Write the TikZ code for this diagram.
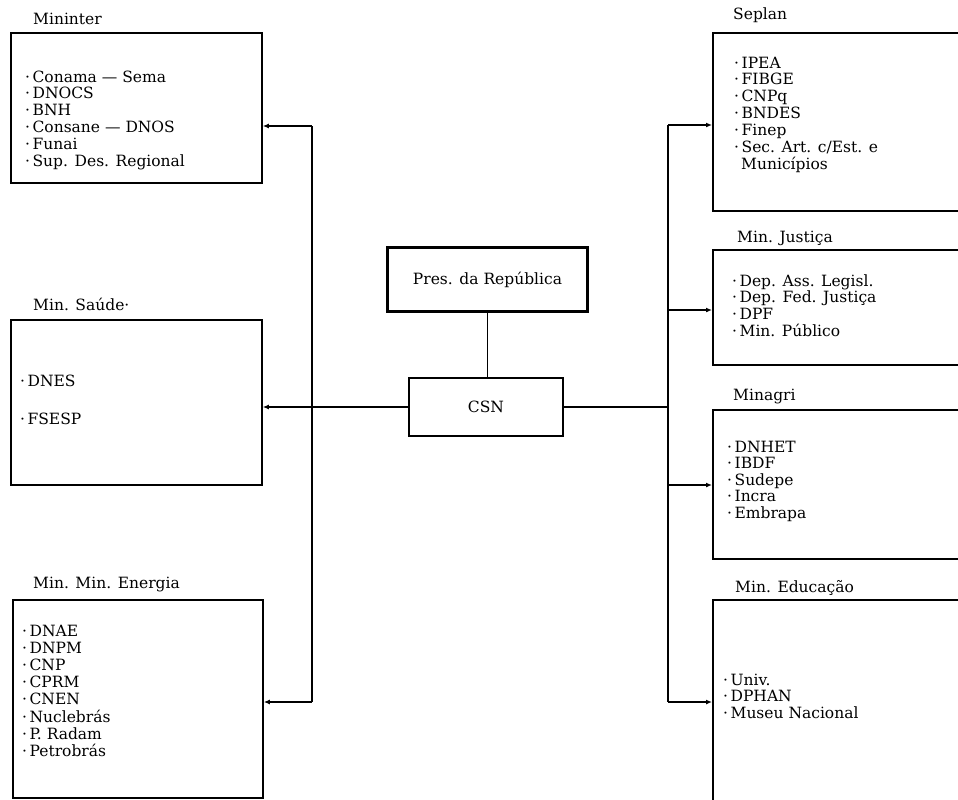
\documentclass[tikz,border=0pt]{standalone}
\usepackage{fontspec}
\setmainfont{DejaVu Serif}
\usepackage{tikz}
\usetikzlibrary{arrows.meta}

\tikzset{
  orgbox/.style={draw,line width=1.8pt,anchor=north west,inner sep=0pt},
  orgitem/.style={anchor=base west,inner sep=0pt,font=\fontsize{15.5}{16}\selectfont},
  boxtitle/.style={anchor=base west,inner sep=0pt,font=\fontsize{15.5}{16}\selectfont},
  feed/.style={line width=1.6pt,-{Latex[length=6pt,width=5pt]}},
  trunk/.style={line width=1.6pt}
}
\newcommand{\dotitem}{\textperiodcentered\kern2.5pt}

\begin{document}
\begin{tikzpicture}[x=1pt,y=-1pt]
    \clip (0,0) rectangle (958,800);
    % left column
    \node[orgbox,minimum width=251pt,minimum height=150pt] (mininter) at (10,32) {};
    \node[boxtitle] (mininter-t) at (33,25) {Mininter};
    \foreach \t [count=\i] in {Conama --- Sema, DNOCS, BNH, Consane --- DNOS, Funai, Sup. Des. Regional}
        \node[orgitem] (mininter-\i) at (25,{82+16.8*(\i-1)}) {\dotitem\t};

    \node[orgbox,minimum width=251pt,minimum height=165pt] (saude) at (10,319) {};
    \node[boxtitle] (saude-t) at (33,310) {Min. Saúde\textperiodcentered};
    \node[orgitem] (saude-1) at (20,386) {\dotitem DNES};
    \node[orgitem] (saude-2) at (20,424) {\dotitem FSESP};

    \node[orgbox,minimum width=250pt,minimum height=198pt] (energia) at (12,599) {};
    \node[boxtitle] (energia-t) at (33,588) {Min. Min. Energia};
    \foreach \t [count=\i] in {DNAE, DNPM, CNP, CPRM, CNEN, Nuclebrás, P. Radam, Petrobrás}
        \node[orgitem] (energia-\i) at (22,{636+17.2*(\i-1)}) {\dotitem\t};

    % right column
    \node[orgbox,minimum width=280pt,minimum height=178pt] (seplan) at (712,32) {};
    \node[boxtitle] (seplan-t) at (733,20) {Seplan};
    \foreach \t [count=\i] in {IPEA, FIBGE, CNPq, BNDES, Finep, Sec. Art. c/Est. e}
        \node[orgitem] (seplan-\i) at (734,{68+16.9*(\i-1)}) {\dotitem\t};
    \node[orgitem] (seplan-7) at (741,{68+16.9*6}) {Municípios};

    \node[orgbox,minimum width=280pt,minimum height=115pt] (justica) at (712,249) {};
    \node[boxtitle] (justica-t) at (737,242) {Min. Justiça};
    \foreach \t [count=\i] in {Dep. Ass. Legisl., Dep. Fed. Justiça, DPF, Min. Público}
        \node[orgitem] (justica-\i) at (732,{286+16.8*(\i-1)}) {\dotitem\t};

    \node[orgbox,minimum width=280pt,minimum height=149pt] (minagri) at (712,409) {};
    \node[boxtitle] (minagri-t) at (733,400) {Minagri};
    \foreach \t [count=\i] in {DNHET, IBDF, Sudepe, Incra, Embrapa}
        \node[orgitem] (minagri-\i) at (727,{452+16.6*(\i-1)}) {\dotitem\t};

    \node[orgbox,minimum width=280pt,minimum height=230pt] (educacao) at (712,599) {};
    \node[boxtitle] (educacao-t) at (735,592) {Min. Educação};
    \foreach \t [count=\i] in {Univ., DPHAN, Museu Nacional}
        \node[orgitem] (educacao-\i) at (723,{685+16.8*(\i-1)}) {\dotitem\t};

    % centre
    \node[draw,line width=3.5pt,minimum width=200pt,minimum height=64pt,font=\fontsize{15.5}{16}\selectfont] (pres) at (487.5,279.5) {Pres. da República};
    \node[draw,line width=1.8pt,minimum width=154pt,minimum height=58pt,font=\fontsize{15.5}{16}\selectfont] (csn) at (486,407) {CSN};

    % connectors
    \coordinate (ltop) at (312,126);
    \coordinate (lbot) at (312,702);
    \coordinate (rtop) at (668,125);
    \coordinate (rbot) at (668,702);
    \draw[trunk] (pres.south) -- (pres.south |- csn.north);
    \draw[trunk] (ltop) -- (lbot);
    \draw[trunk] (rtop) -- (rbot);
    \draw[feed] (csn.west) -- (csn.west -| saude.east);
    \draw[trunk] (csn.east) -- (csn.east -| rtop);
    \draw[feed] (ltop) -- (ltop -| mininter.east);
    \draw[feed] (lbot) -- (lbot -| energia.east);
    \draw[feed] (rtop) -- (rtop -| seplan.west);
    \draw[feed] (668,310) -- (668,310 -| justica.west);
    \draw[feed] (668,485) -- (668,485 -| minagri.west);
    \draw[feed] (rbot) -- (rbot -| educacao.west);
\end{tikzpicture}
\end{document}
